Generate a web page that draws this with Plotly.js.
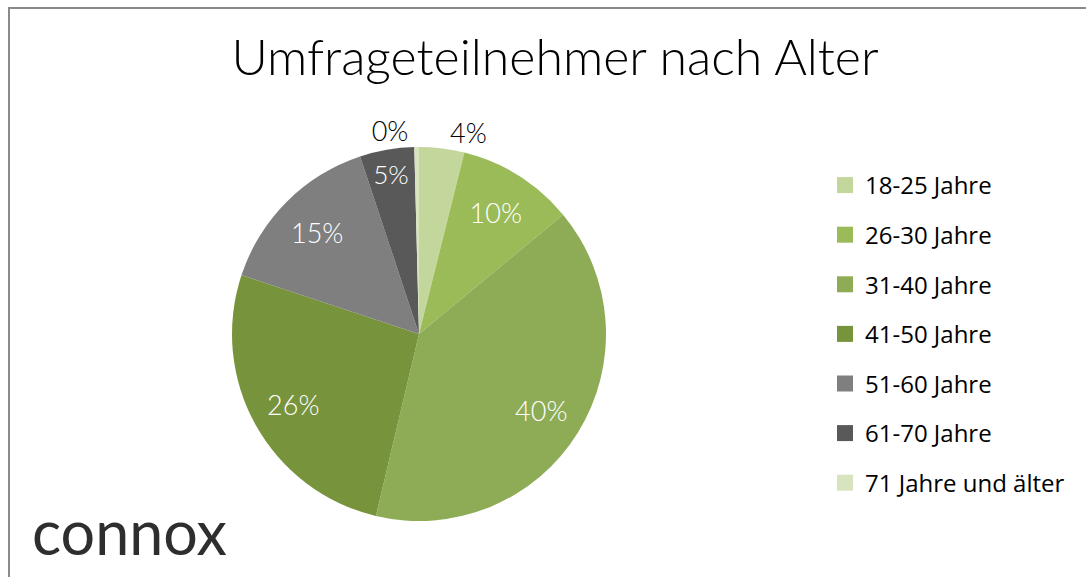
<!DOCTYPE html>
<html>
<head>
<meta charset="utf-8">
<script src="https://cdn.plot.ly/plotly-3.0.1.min.js"></script>
<style>html,body{margin:0;padding:0;background:#fff}#chart{width:1086px;height:577px}</style>
</head>
<body>
<div id="chart"></div>
<script>
// ---- data ----
const categories = ['18-25 Jahre', '26-30 Jahre', '31-40 Jahre', '41-50 Jahre', '51-60 Jahre', '61-70 Jahre', '71 Jahre und älter'];
const shares = [3.9, 10.1, 39.7, 26.4, 14.8, 4.7, 0.4];
const sliceColors = ['#c3d69b', '#9bbb59', '#8eac55', '#77933c', '#7f7f7f', '#595959', '#d7e4bd'];
const titleText = 'Umfrageteilnehmer nach Alter';
const logoText = 'connox';

// ---- layout constants ----
const W = 1086, H = 577;
const cx = 419, cy = 334, R = 187;
const pieDomain = {x: [(cx - R) / W, (cx + R) / W], y: [1 - (cy + R) / H, 1 - (cy - R) / H]};
const labelFont = {family: 'Lato, "Open Sans", sans-serif', size: 27, weight: 300};

const outsidePos = shares.map(v => v < 4.5 ? 'outside' : 'none');
const insidePos = outsidePos.map(p => p === 'outside' ? 'none' : 'inside');

const traces = [];
// base pie: colored slices, outside labels for the tiny slices
traces.push({
  type: 'pie', labels: categories, values: shares, sort: false, direction: 'clockwise', rotation: 0,
  domain: pieDomain, marker: {colors: sliceColors, line: {width: 0}},
  textposition: outsidePos, texttemplate: '%{percent:.0%}',
  outsidetextfont: Object.assign({}, labelFont, {color: '#000000'}),
  showlegend: false, hoverinfo: 'label+percent'
});
// overlay ring (transparent) used to place the inside labels further out
traces.push({
  type: 'pie', labels: categories, values: shares, sort: false, direction: 'clockwise', rotation: 0,
  domain: pieDomain, hole: 0.54, marker: {colors: categories.map(() => 'rgba(0,0,0,0)'), line: {width: 0}},
  textposition: insidePos, texttemplate: '%{percent:.0%}', insidetextorientation: 'horizontal',
  insidetextfont: Object.assign({}, labelFont, {color: '#ffffff'}),
  showlegend: false, hoverinfo: 'skip'
});
// legend entries
categories.forEach((c, i) => {
  traces.push({
    type: 'scatter', mode: 'markers', x: [null], y: [null], name: c, legendgroup: 'g' + i,
    marker: {symbol: 'square', size: 16, color: sliceColors[i]}, showlegend: true, hoverinfo: 'skip'
  });
});

const layout = {
  width: W, height: H,
  margin: {l: 0, r: 0, t: 0, b: 0},
  paper_bgcolor: '#ffffff', plot_bgcolor: '#ffffff',
  title: {
    text: titleText, x: 555 / W, xanchor: 'center', y: 1 - 57 / H, yanchor: 'middle',
    font: {family: 'Lato, "Open Sans", sans-serif', size: 50, weight: 300, color: '#000000'}
  },
  xaxis: {visible: false, domain: [0, 0.01]},
  yaxis: {visible: false, domain: [0, 0.01]},
  showlegend: true,
  legend: {
    x: 825 / W, xanchor: 'left', y: 1 - 163 / H, yanchor: 'top',
    font: {family: '"Open Sans", sans-serif', size: 24, color: '#000000'},
    tracegroupgap: 15.4, itemclick: false, bgcolor: 'rgba(0,0,0,0)'
  },
  shapes: [{
    type: 'rect', xref: 'paper', yref: 'paper',
    x0: 9 / W, x1: 1.05, y0: -0.05, y1: 1 - 8 / H,
    line: {color: '#8a8a8a', width: 2}, fillcolor: 'rgba(0,0,0,0)'
  }],
  annotations: [{
    text: logoText, xref: 'paper', yref: 'paper', x: 30 / W, xanchor: 'left', y: 1 - 531 / H, yanchor: 'middle',
    showarrow: false, font: {family: 'Lato, "Open Sans", sans-serif', size: 61, color: '#2e2e2e'}
  }]
};

Plotly.newPlot('chart', traces, layout, {displayModeBar: false, staticPlot: true});
</script>
</body>
</html>
